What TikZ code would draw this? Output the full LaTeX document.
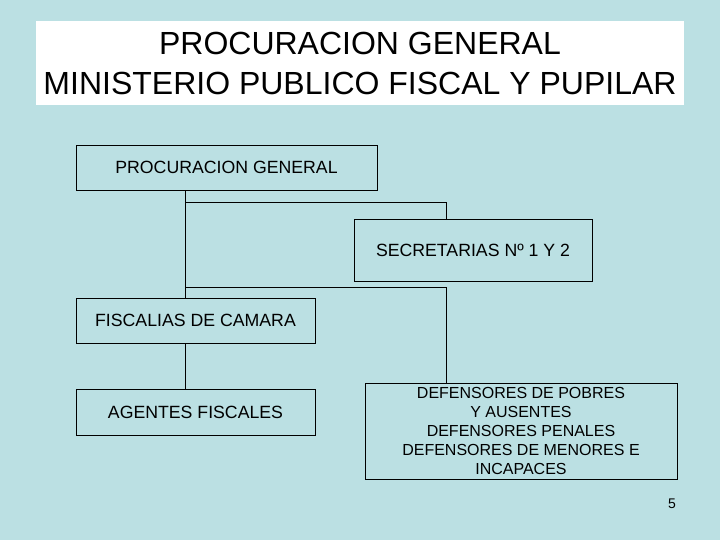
\documentclass[tikz,border=0pt]{standalone}
\usepackage{fontspec}
\setmainfont{Liberation Sans}
\definecolor{slidebg}{RGB}{187,224,227}
\begin{document}
\begin{tikzpicture}[x=1pt, y=-1pt,
    box/.style={draw=black, line width=0.9pt, inner sep=0pt, align=center,
        font=\fontsize{17.7}{21}\selectfont},
    link/.style={line width=0.9pt}]
\useasboundingbox (0,0) rectangle (720,540);
\fill[slidebg] (0,0) rectangle (720,540);

\node (title) at (360,63)[fill=white, minimum width=648pt, minimum height=84pt, align=center,
    font=\fontsize{32}{40}\selectfont]{PROCURACION GENERAL\\MINISTERIO PUBLICO FISCAL Y PUPILAR};

\node (proc) at (226.5,167.5)[box, minimum width=301pt, minimum height=45pt]{PROCURACION GENERAL};
\node (secr) at (473,250)[box, minimum width=238pt, minimum height=62pt]{SECRETARIAS Nº 1 Y 2};
\node (fisc) at (195.5,320.5)[box, minimum width=239pt, minimum height=45pt]{FISCALIAS DE CAMARA};
\node (agen) at (195.5,412)[box, minimum width=239pt, minimum height=46pt]{AGENTES FISCALES};
\node (defe) at (521,431)[box, minimum width=312pt, minimum height=96pt,
    font=\fontsize{16}{19}\selectfont]{DEFENSORES DE POBRES\\Y AUSENTES\\DEFENSORES PENALES\\DEFENSORES DE MENORES E\\INCAPACES};

\coordinate (j1) at (185,202);
\coordinate (j2) at (185,287);
\coordinate (drop) at (446,0);

\draw[link] (proc.south -| j1)--(fisc.north -| j1);
\draw[link] (fisc.south -| j1)--(agen.north -| j1);
\draw[link] (j1) -| (secr.north -| drop);
\draw[link] (j2) -| (defe.north -| drop);

\node (pagenum) at (672,504)[font=\fontsize{14}{16}\selectfont]{5};
\end{tikzpicture}
\end{document}
